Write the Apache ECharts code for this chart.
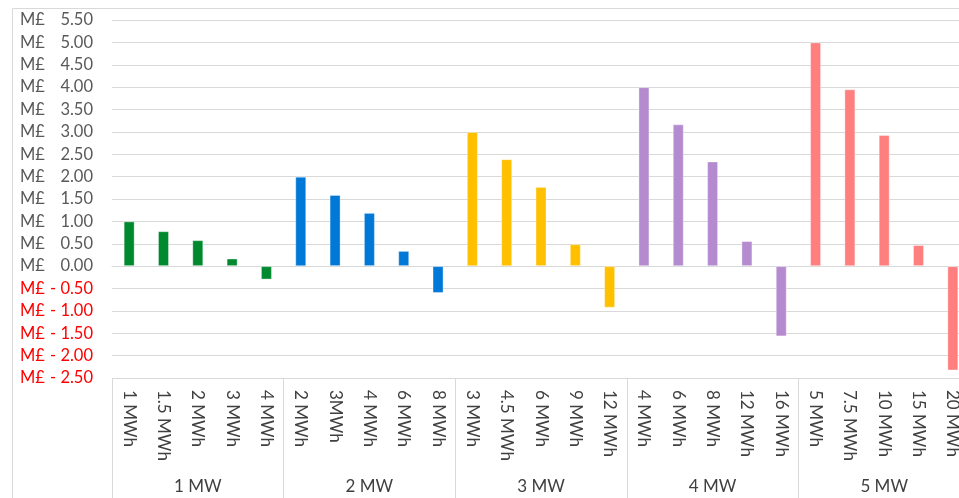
<!DOCTYPE html>
<html>
<head>
<meta charset="utf-8">
<script src="https://cdn.jsdelivr.net/npm/echarts@6/dist/echarts.min.js"></script>
<style>
  html, body { margin: 0; padding: 0; background: #fff; overflow: hidden; }
  #chart { width: 980px; height: 498px; }
</style>
</head>
<body>
<div id="chart"></div>
<script>
// Battery size (energy) per power rating, in display order
const categories = [
  '1 MWh', '1.5 MWh', '2 MWh', '3 MWh', '4 MWh',
  '2 MWh', '3MWh', '4 MWh', '6 MWh', '8 MWh',
  '3 MWh', '4.5 MWh', '6 MWh', '9 MWh', '12 MWh',
  '4 MWh', '6 MWh', '8 MWh', '12 MWh', '16 MWh',
  '5 MWh', '7.5 MWh', '10 MWh', '15 MWh', '20 MWh'
];
// Power rating groups (each covers five energy sizes)
const groups = ['1 MW', '2 MW', '3 MW', '4 MW', '5 MW'];
// Net value in M£
const values = [
  1.00, 0.78, 0.58, 0.17, -0.30,
  2.00, 1.59, 1.19, 0.34, -0.60,
  3.00, 2.39, 1.77, 0.49, -0.93,
  4.00, 3.17, 2.34, 0.56, -1.57,
  5.00, 3.95, 2.93, 0.47, -2.33
];
const groupColors = ['#00892E', '#0078D7', '#FFC000', '#B58BD0', '#FF7F7F'];
const groupSize = 5;

const chart = echarts.init(document.getElementById('chart'), null, { renderer: 'canvas' });

const font = 'Lato, "Open Sans", sans-serif';
const fs = 17;   // category and group labels
const yfs = 16.5; // value axis labels

chart.setOption({
  animation: false,
  backgroundColor: '#fff',
  graphic: [{
    type: 'rect',
    shape: { x: 12.5, y: 8.5, width: 1200, height: 800 },
    style: { fill: 'none', stroke: '#D9D9D9', lineWidth: 1 },
    silent: true,
    z: -10
  }],
  grid: { left: 112, top: 20, width: 858, height: 358 },
  xAxis: [{
    type: 'category',
    data: categories,
    position: 'bottom',
    axisLine: { show: true, lineStyle: { color: '#D9D9D9', width: 1 } },
    axisTick: { show: false },
    axisLabel: {
      interval: 0,
      rotate: -90,
      margin: 12,
      color: '#404040',
      fontFamily: font,
      fontSize: fs
    },
    splitLine: { show: false }
  }, {
    type: 'category',
    data: groups,
    position: 'bottom',
    axisLine: { show: false },
    axisTick: { show: true, length: 130, lineStyle: { color: '#D9D9D9', width: 1 } },
    axisLabel: {
      interval: 0,
      margin: 100,
      color: '#404040',
      fontFamily: font,
      fontSize: fs
    },
    splitLine: { show: false }
  }],
  yAxis: {
    type: 'value',
    min: -2.5,
    max: 5.5,
    interval: 0.5,
    axisLine: { show: false },
    axisTick: { show: false },
    splitLine: { lineStyle: { color: '#D9D9D9', width: 1 } },
    axisLabel: {
      margin: 19,
      fontFamily: font,
      fontSize: yfs,
      formatter: function (v) {
        const neg = v < 0;
        const num = (neg ? '- ' : '') + Math.abs(v).toFixed(2);
        const s = neg ? 'n' : 'p';
        return '{' + s + 'c|M£}{' + s + 'v|' + num + '}';
      },
      rich: {
        pc: { color: '#595959', width: 24, align: 'left', fontFamily: font, fontSize: yfs },
        pv: { color: '#595959', width: 49, align: 'right', fontFamily: font, fontSize: yfs },
        nc: { color: '#FF0000', width: 24, align: 'left', fontFamily: font, fontSize: yfs },
        nv: { color: '#FF0000', width: 49, align: 'right', fontFamily: font, fontSize: yfs }
      }
    }
  },
  series: [{
    type: 'bar',
    xAxisIndex: 0,
    barWidth: 11,
    data: values.map(function (v, i) {
      return {
        value: v,
        itemStyle: {
          color: groupColors[Math.floor(i / groupSize)],
          borderColor: 'rgba(255,255,255,0.35)',
          borderWidth: 1
        }
      };
    })
  }]
});
</script>
</body>
</html>
